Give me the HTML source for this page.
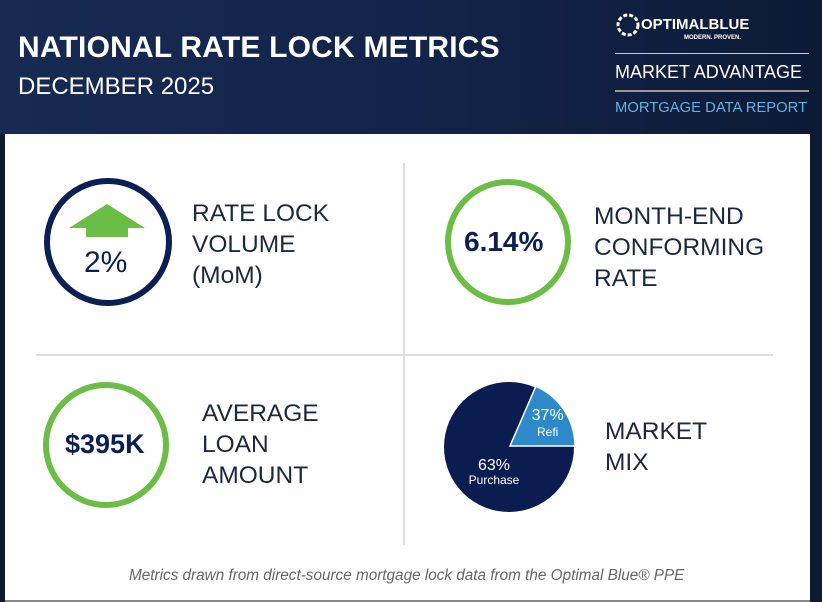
<!DOCTYPE html>
<html><head><meta charset="utf-8">
<style>
body{margin:0;width:822px;height:602px;overflow:hidden;background:#0e1a33;font-family:"Liberation Sans",sans-serif}
#hdr{position:absolute;left:0;top:0;width:822px;height:134px;background:linear-gradient(90deg,#172a52 0%,#13244a 50%,#0d1a36 100%)}
.t{position:absolute;white-space:nowrap}
#panel{position:absolute;left:5px;top:134px;width:805px;height:466px;background:#fff;border-bottom:2px solid #888}
</style></head><body>
<div id="hdr">
<div class="t" style="left:18px;top:31px;color:#fff;font-size:30px;font-weight:bold;letter-spacing:0.2px">NATIONAL RATE LOCK METRICS</div>
<div class="t" style="left:18px;top:73px;color:#fff;font-size:24px">DECEMBER 2025</div>
<svg style="position:absolute;left:616px;top:13px" width="24" height="24"><circle cx="12" cy="12" r="10" fill="none" stroke="#fff" stroke-width="3" stroke-dasharray="4 2"/></svg>
<div class="t" style="left:641px;top:16px;color:#fff;font-size:15px;font-weight:bold">OPTIMALBLUE</div>
<div class="t" style="left:684px;top:35px;color:#fff;font-size:6px;font-weight:bold">MODERN. PROVEN.</div>
<div style="position:absolute;left:615px;top:53px;width:194px;height:1px;background:#ccc"></div>
<div class="t" style="left:615px;top:62px;color:#fff;font-size:18px">MARKET ADVANTAGE</div>
<div style="position:absolute;left:615px;top:90px;width:194px;height:2px;background:#999"></div>
<div class="t" style="left:615px;top:100px;color:#5fb3e3;font-size:14.8px">MORTGAGE DATA REPORT</div>
</div>
<div id="panel"></div>
<svg style="position:absolute;left:0;top:0" width="822" height="602">
<line x1="404" y1="163" x2="404" y2="545" stroke="#ddd" stroke-width="2"/>
<line x1="36" y1="355" x2="773" y2="355" stroke="#ddd" stroke-width="2"/>
<circle cx="108" cy="242" r="61" fill="none" stroke="#0b1f55" stroke-width="6"/>
<polygon points="107,204 145,228 128,228 128,237 86,237 86,228 69,228" fill="#6bbd45"/>
<circle cx="508" cy="242" r="60" fill="none" stroke="#6bbd45" stroke-width="6"/>
<circle cx="106" cy="445" r="60" fill="none" stroke="#6bbd45" stroke-width="6"/>
<g id="pie"></g>
</svg>
<div class="t" style="left:84px;top:246px;color:#0b1f55;font-size:30px">2%</div>
<div class="t" style="left:464px;top:226px;color:#0b1f55;font-size:28px;font-weight:bold">6.14%</div>
<div class="t" style="left:65px;top:429px;color:#0b1f55;font-size:27px;font-weight:bold">$395K</div>
<div class="t" style="left:192px;top:198px;color:#1c2840;font-size:24.5px;line-height:31px">RATE LOCK<br>VOLUME<br>(MoM)</div>
<div class="t" style="left:594px;top:201px;color:#1c2840;font-size:24.5px;line-height:31px">MONTH-END<br>CONFORMING<br>RATE</div>
<div class="t" style="left:202px;top:398px;color:#1c2840;font-size:24.5px;line-height:31px">AVERAGE<br>LOAN<br>AMOUNT</div>
<div class="t" style="left:605px;top:416px;color:#1c2840;font-size:24.5px;line-height:31px">MARKET<br>MIX</div>
<div class="t" style="left:129px;top:567px;color:#666;font-size:15.3px;font-style:italic">Metrics drawn from direct-source mortgage lock data from the Optimal Blue® PPE</div>
<script>
const mixLabels=["Refi","Purchase"];
const mixValues=[37,63];
const mixColors=["#2e89c8","#0a1c50"];
const NS="http://www.w3.org/2000/svg";
const g=document.getElementById('pie');
const cx=509,cy=447,r=65;
const total=mixValues.reduce((a,b)=>a+b,0);
const refiSweep=mixValues[0]/total*180;
function pt(a,rr,ox,oy){const t=a*Math.PI/180;return [ox+rr*Math.cos(t),oy-rr*Math.sin(t)];}
const bg=document.createElementNS(NS,'circle');
bg.setAttribute('cx',cx);bg.setAttribute('cy',cy);bg.setAttribute('r',r);bg.setAttribute('fill',mixColors[1]);


g.appendChild(bg);
const ox=cx+1,oy=cy-1;
const p1=pt(0,r,ox,oy),p2=pt(refiSweep,r,ox,oy);
const w=document.createElementNS(NS,'path');
w.setAttribute('d',`M${ox},${oy} L${p1[0]},${p1[1]} A${r},${r} 0 0 0 ${p2[0]},${p2[1]} Z`);
w.setAttribute('fill',mixColors[0]);w.setAttribute('stroke','#fff');w.setAttribute('stroke-width','1.5');


g.appendChild(w);
function txt(x,y,s,fs,name){const t=document.createElementNS(NS,'text');t.setAttribute('x',x);t.setAttribute('y',y);t.setAttribute('fill','#fff');t.setAttribute('font-size',fs);t.setAttribute('text-anchor','middle');t.setAttribute('font-family','Liberation Sans, sans-serif');t.textContent=s;


g.appendChild(t);}
const lr=pt(refiSweep/2,r*0.62,ox,oy);
txt(lr[0]+4,lr[1]-4,mixValues[0]+'%',16,'refi-percent');
txt(lr[0]+4,lr[1]+12,mixLabels[0],12,'refi-label');
txt(494,470,mixValues[1]+'%',16,'purchase-percent');
txt(494,484,mixLabels[1],12,'purchase-label');
</script>
</body></html>
